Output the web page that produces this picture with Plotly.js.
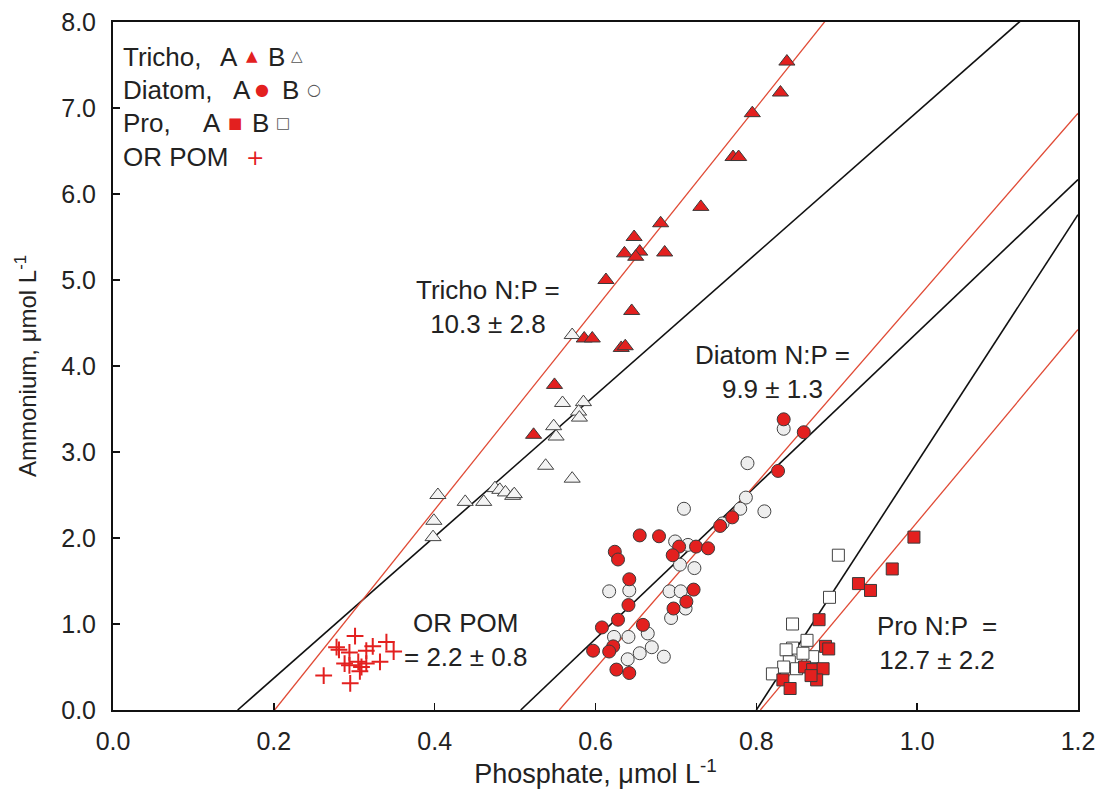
<!DOCTYPE html>
<html>
<head>
<meta charset="utf-8">
<script src="https://cdn.plot.ly/plotly-3.0.1.min.js"></script>
<style>html,body{margin:0;padding:0;background:#fff;}#chart{width:1103px;height:801px;}</style>
</head>
<body>
<div id="chart"></div>
<script>
// ---- Data (phosphate x, ammonium y), µmol L-1 ----
const trichoA_x = [0.838,0.830,0.795,0.771,0.778,0.731,0.681,0.648,0.636,0.655,0.650,0.686,0.613,0.645,0.586,0.596,0.632,0.637,0.549,0.523];
const trichoA_y = [7.54,7.18,6.94,6.43,6.43,5.85,5.66,5.50,5.31,5.33,5.27,5.32,5.00,4.64,4.32,4.32,4.21,4.23,3.78,3.20];
const trichoB_x = [0.571,0.559,0.585,0.579,0.580,0.548,0.551,0.538,0.571,0.475,0.481,0.488,0.497,0.499,0.461,0.438,0.404,0.399,0.398];
const trichoB_y = [4.36,3.57,3.58,3.47,3.40,3.30,3.18,2.84,2.69,2.58,2.56,2.53,2.49,2.51,2.42,2.42,2.50,2.20,2.01];

const diatomA_x = [0.834,0.859,0.827,0.770,0.755,0.655,0.679,0.624,0.628,0.704,0.696,0.725,0.740,0.642,0.722,0.713,0.697,0.641,0.628,0.608,0.659,0.597,0.622,0.617,0.626,0.642];
const diatomA_y = [3.38,3.23,2.78,2.24,2.14,2.03,2.02,1.84,1.75,1.90,1.80,1.90,1.88,1.52,1.40,1.26,1.18,1.22,1.05,0.96,0.99,0.69,0.74,0.68,0.47,0.43];
const diatomB_x = [0.834,0.789,0.710,0.787,0.780,0.810,0.758,0.699,0.715,0.705,0.723,0.617,0.642,0.692,0.706,0.712,0.694,0.623,0.641,0.665,0.670,0.655,0.640,0.685];
const diatomB_y = [3.27,2.87,2.34,2.47,2.34,2.31,2.17,1.96,1.92,1.69,1.65,1.38,1.39,1.38,1.38,1.18,1.07,0.85,0.85,0.89,0.73,0.66,0.59,0.62];

const proA_x = [0.996,0.969,0.927,0.942,0.878,0.886,0.890,0.860,0.870,0.883,0.875,0.833,0.842,0.868];
const proA_y = [2.01,1.64,1.47,1.39,1.05,0.74,0.71,0.50,0.47,0.48,0.35,0.35,0.25,0.40];
const proB_x = [0.902,0.891,0.845,0.863,0.845,0.837,0.870,0.841,0.834,0.820,0.850,0.858];
const proB_y = [1.80,1.31,1.00,0.81,0.72,0.70,0.62,0.56,0.50,0.42,0.48,0.66];

const pom_x = [0.301,0.278,0.281,0.294,0.323,0.315,0.340,0.349,0.288,0.294,0.305,0.309,0.315,0.332,0.307,0.262,0.295];
const pom_y = [0.86,0.73,0.70,0.67,0.74,0.69,0.79,0.68,0.54,0.52,0.56,0.50,0.54,0.56,0.45,0.40,0.31];

// Regression lines: x-intercept and slope
const lineNames  = ['Tricho B','Tricho A','Diatom B','Diatom A','Pro B','Pro A'];
const lineX0     = [0.155, 0.201, 0.507, 0.555, 0.800, 0.805];
const lineSlope  = [8.23, 11.7, 8.9, 10.76, 14.4, 11.2];
const lineIsRed  = [false, true, false, true, false, true];

const xTickVals = [0,0.2,0.4,0.6,0.8,1.0,1.2];
const yTickVals = [0,1,2,3,4,5,6,7,8];

// ---- Styles ----
const RED = '#e3201f';
const LINE_RED = '#e04a35';
const EDGE = '#3a3a3a';

const traces = [];
const xMax = 1.2;
lineX0.forEach((x0, i) => {
  traces.push({
    type:'scatter', mode:'lines', name: lineNames[i], hoverinfo:'skip',
    x:[x0, xMax], y:[0, lineSlope[i]*(xMax - x0)],
    line:{color: lineIsRed[i] ? LINE_RED : '#111', width: lineIsRed[i] ? 1.3 : 1.6}
  });
});

function pts(x, y, symbol, filled, size, openFill){
  return {type:'scatter', mode:'markers', x:x, y:y, cliponaxis:false,
    marker:{symbol:symbol, size:size, color: filled ? RED : openFill,
            line:{color: filled ? EDGE : '#444', width:1}}};
}
traces.push(pts(trichoB_x, trichoB_y, 'triangle-up', false, 14, '#f4f4f4'));
traces.push(pts(trichoA_x, trichoA_y, 'triangle-up', true, 14));
traces.push(pts(diatomB_x, diatomB_y, 'circle', false, 13, '#eeeeee'));
traces.push(pts(diatomA_x, diatomA_y, 'circle', true, 13));
traces.push(pts(proB_x, proB_y, 'square', false, 12, '#ffffff'));
traces.push(pts(proA_x, proA_y, 'square', true, 12));
traces.push({type:'scatter', mode:'markers', x:pom_x, y:pom_y,
  marker:{symbol:'cross-thin', size:12, line:{color:RED, width:2}}});

const TXT = '#222';
const annFont = {family:'Liberation Sans, Arial, sans-serif', size:26, color:TXT};
// paper coords helpers: plot area px 113..1078, 22..710
const W = 1078-113, H = 710-22;
const px = p => (p-113)/W;
const py = p => (710-p)/H;
function ann(text, x, y, xanchor){
  return {xref:'paper', yref:'paper', x:px(x), y:py(y), text:text, showarrow:false,
          xanchor:xanchor||'center', yanchor:'middle', font:annFont};
}

const annotations = [
  ann('Tricho N:P =<br>10.3 ± 2.8', 488, 307),
  ann('Diatom N:P =<br>9.9 ± 1.3', 772, 372),
  ann('OR POM<br>= 2.2 ± 0.8', 465, 640),
  ann('Pro N:P &nbsp;=<br>12.7 ± 2.2', 937, 643),
  // legend text
  ann('Tricho,', 121, 57, 'left'),
  ann('A', 218, 57, 'left'),
  ann('B', 266, 57, 'left'),
  ann('Diatom,', 121, 90, 'left'),
  ann('A', 231, 90, 'left'),
  ann('B', 280, 90, 'left'),
  ann('Pro,', 121, 123, 'left'),
  ann('A', 201, 123, 'left'),
  ann('B', 250, 123, 'left'),
  ann('OR POM', 121, 157, 'left'),
];
function key(ch, x, y, color, size){
  return {xref:'paper', yref:'paper', x:px(x), y:py(y), text:ch, showarrow:false,
          xanchor:'center', yanchor:'middle',
          font:{family:'DejaVu Sans, sans-serif', size:size, color:color}};
}
annotations.push(key('▲', 252, 56, RED, 15));
annotations.push(key('△', 297, 56, '#555', 15));
annotations.push(key('●', 262, 90, RED, 16));
annotations.push(key('○', 314, 90, '#555', 16));
annotations.push(key('■', 235, 123, RED, 15));
annotations.push(key('□', 283, 123, '#555', 15));
annotations.push(key('+', 255, 157, RED, 22));

const axisCommon = {
  showgrid:false, zeroline:false, showline:true, linecolor:'#111', linewidth:2,
  mirror:true, ticks:'inside', ticklen:7, tickwidth:1.5, tickcolor:'#111',
  tickfont:{family:'Liberation Sans, Arial, sans-serif', size:25, color:TXT},
  tickformat:'.1f'
};

const layout = {
  width:1103, height:801,
  margin:{l:113, r:25, t:22, b:91},
  paper_bgcolor:'#fff', plot_bgcolor:'#fff',
  showlegend:false,
  xaxis:Object.assign({}, axisCommon, {
    range:[0,1.2], tickvals:xTickVals, ticklabelstandoff:8,
    title:{text:'Phosphate, μmol L<sup>-1</sup>', standoff:10,
      font:{family:'Liberation Sans Narrow, Liberation Sans, Arial, sans-serif', size:27, color:TXT}}
  }),
  yaxis:Object.assign({}, axisCommon, {
    range:[0,8], tickvals:yTickVals, ticklabelstandoff:10,
    title:{text:'Ammonium, μmol L<sup>-1</sup>', standoff:18,
      font:{family:'Liberation Sans, Arial, sans-serif', size:24, color:TXT}}
  }),
  annotations:annotations
};

Plotly.newPlot('chart', traces, layout, {displayModeBar:false, staticPlot:true});
</script>
</body>
</html>
